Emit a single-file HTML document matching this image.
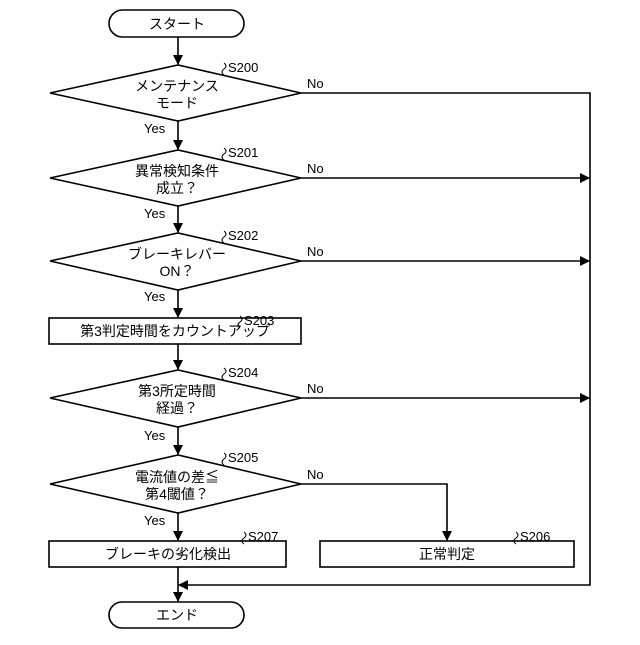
<!DOCTYPE html>
<html><head><meta charset="utf-8"><style>
body{margin:0;background:#fff}
svg text{font-family:"Liberation Sans","Noto Sans CJK JP",sans-serif;fill:#000}
</style></head><body>
<svg width="640" height="640" viewBox="0 0 640 640" xmlns="http://www.w3.org/2000/svg">
<defs><marker id="a" markerWidth="10" markerHeight="10" refX="9" refY="5" orient="auto" markerUnits="userSpaceOnUse"><path d="M0,0 L10,5 L0,10 Z" fill="#000"/></marker></defs>
<g fill="none" stroke="#000" stroke-width="1.6">
<rect x="109" y="10" width="135" height="27" rx="13.5" fill="#fff"/>
<rect x="109" y="602" width="135" height="26" rx="13" fill="#fff"/>
<polygon points="50,93 178,65 301,93 178,121"/>
<polygon points="50,178 178,150 301,178 178,206"/>
<polygon points="50,261 178,233 301,261 178,290"/>
<rect x="49" y="318" width="252" height="26"/>
<polygon points="50,398 178,370 301,398 178,427"/>
<polygon points="50,484 178,455 301,484 178,513"/>
<rect x="49" y="541" width="237" height="26"/>
<rect x="320" y="541" width="254" height="26"/>
<line x1="178" y1="37" x2="178" y2="64" marker-end="url(#a)"/>
<line x1="178" y1="121" x2="178" y2="149" marker-end="url(#a)"/>
<line x1="178" y1="206" x2="178" y2="232" marker-end="url(#a)"/>
<line x1="178" y1="290" x2="178" y2="317" marker-end="url(#a)"/>
<line x1="178" y1="344" x2="178" y2="369" marker-end="url(#a)"/>
<line x1="178" y1="427" x2="178" y2="454" marker-end="url(#a)"/>
<line x1="178" y1="513" x2="178" y2="540" marker-end="url(#a)"/>
<line x1="178" y1="567" x2="178" y2="601" marker-end="url(#a)"/>
<polyline points="301,93 590,93 590,585 179,585" marker-end="url(#a)"/>
<line x1="301" y1="178" x2="589" y2="178" marker-end="url(#a)"/>
<line x1="301" y1="261" x2="589" y2="261" marker-end="url(#a)"/>
<line x1="301" y1="398" x2="589" y2="398" marker-end="url(#a)"/>
<polyline points="301,484 447,484 447,540" marker-end="url(#a)"/>
<path d="M224,75 q-4,-3 0,-6 q4,-3 0,-6 M224,160 q-4,-3 0,-6 q4,-3 0,-6 M224,243 q-4,-3 0,-6 q4,-3 0,-6 M240,328 q-4,-3 0,-6 q4,-3 0,-6 M224,380 q-4,-3 0,-6 q4,-3 0,-6 M224,465 q-4,-3 0,-6 q4,-3 0,-6 M244,544 q-4,-3 0,-6 q4,-3 0,-6 M516,544 q-4,-3 0,-6 q4,-3 0,-6" stroke-width="1"/>
</g>
<g font-size="14" text-anchor="middle">
<text x="177" y="29">スタート</text>
<text x="177" y="620">エンド</text>
<text x="177" y="91">メンテナンス</text>
<text x="177" y="108">モード</text>
<text x="177" y="176">異常検知条件</text>
<text x="177" y="193">成立？</text>
<text x="177" y="259">ブレーキレバー</text>
<text x="177" y="276">ON？</text>
<text x="175" y="336">第3判定時間をカウントアップ</text>
<text x="177" y="396">第3所定時間</text>
<text x="177" y="413">経過？</text>
<text x="177" y="482">電流値の差≦</text>
<text x="177" y="499">第4閾値？</text>
<text x="168" y="559">ブレーキの劣化検出</text>
<text x="447" y="559">正常判定</text>
</g>
<g font-size="13">
<text x="228" y="72">S200</text><text x="228" y="157">S201</text><text x="228" y="240">S202</text>
<text x="244" y="325">S203</text><text x="228" y="377">S204</text><text x="228" y="462">S205</text>
<text x="248" y="541">S207</text><text x="520" y="541">S206</text>
<text x="307" y="88">No</text><text x="307" y="173">No</text><text x="307" y="256">No</text>
<text x="307" y="393">No</text><text x="307" y="479">No</text>
<text x="144" y="133">Yes</text><text x="144" y="218">Yes</text><text x="144" y="301">Yes</text>
<text x="144" y="440">Yes</text><text x="144" y="525">Yes</text>
</g>
</svg>
</body></html>
